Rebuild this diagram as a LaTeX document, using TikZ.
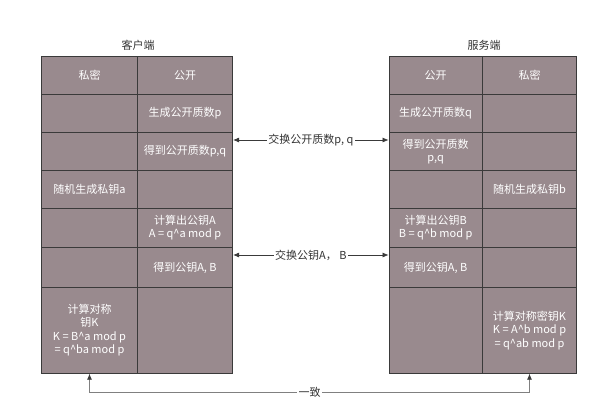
\documentclass[tikz,border=0pt]{standalone}
\usepackage{fontspec}
\setmainfont{Noto Sans CJK SC}
\usetikzlibrary{arrows.meta}
\definecolor{cellc}{HTML}{998A8E}
\definecolor{edgec}{HTML}{3A3A3A}
\definecolor{txtc}{HTML}{333333}
\begin{document}
\begin{tikzpicture}[x=1pt,y=-1pt,
  font=\fontsize{11}{13.5}\selectfont,
  cell/.style={draw=edgec, line width=0.8pt, fill=cellc, text=white, inner sep=1pt, align=center},
  la/.style={cell, minimum width=95.6pt},
  lb/.style={cell, minimum width=95.4pt},
  ra/.style={cell, minimum width=93.3pt},
  rb/.style={cell, minimum width=94.4pt},
  h1/.style={minimum height=37.6pt},
  h2/.style={minimum height=38.4pt},
  h3/.style={minimum height=37.6pt},
  h4/.style={minimum height=37.7pt},
  h5/.style={minimum height=39.7pt},
  h6/.style={minimum height=39.6pt},
  h7/.style={minimum height=86pt},
  conn/.style={draw=edgec, line width=0.7pt, {Latex[length=6pt,width=5pt,color=edgec]}-{Latex[length=6pt,width=5pt,color=edgec]}},
  lbl/.style={fill=white, text=txtc, inner sep=1.5pt},
  title/.style={text=txtc}
]
\useasboundingbox (0,0) rectangle (605,418);
\fill[white] (0,0) rectangle (605,418);

\node[title] (tl) at (138,45) {客户端};
\node[title] (tr) at (484,45) {服务端};

% left table
\node[la,h1] (l1a) at (89.5,75.5) {私密};
\node[lb,h1] (l1b) at (185,75.5) {公开};
\node[la,h2] (l2a) at (89.5,113.5) {};
\node[lb,h2] (l2b) at (185,113.5) {生成公开质数p};
\node[la,h3] (l3a) at (89.5,151.5) {};
\node[lb,h3] (l3b) at (185,151.5) {得到公开质数p,q};
\node[la,h4] (l4a) at (89.5,189.15) {随机生成私钥a};
\node[lb,h4] (l4b) at (185,189.15) {};
\node[la,h5] (l5a) at (89.5,227.85) {};
\node[lb,h5] (l5b) at (185,227.85) {计算出公钥A\\A = q\textasciicircum a mod p};
\node[la,h6] (l6a) at (89.5,267.5) {};
\node[lb,h6] (l6b) at (185,267.5) {得到公钥A, B};
\node[la,h7] (l7a) at (89.5,330.3) {计算对称\\钥K\\K = B\textasciicircum a mod p\\= q\textasciicircum ba mod p};
\node[lb,h7] (l7b) at (185,330.3) {};

% right table
\node[ra,h1] (r1a) at (435.65,75.5) {公开};
\node[rb,h1] (r1b) at (529.5,75.5) {私密};
\node[ra,h2] (r2a) at (435.65,113.5) {生成公开质数q};
\node[rb,h2] (r2b) at (529.5,113.5) {};
\node[ra,h3] (r3a) at (435.65,151.5) {得到公开质数\\p,q};
\node[rb,h3] (r3b) at (529.5,151.5) {};
\node[ra,h4] (r4a) at (435.65,189.15) {};
\node[rb,h4] (r4b) at (529.5,189.15) {随机生成私钥b};
\node[ra,h5] (r5a) at (435.65,227.85) {计算出公钥B\\B = q\textasciicircum b mod p};
\node[rb,h5] (r5b) at (529.5,227.85) {};
\node[ra,h6] (r6a) at (435.65,267.5) {得到公钥A, B};
\node[rb,h6] (r6b) at (529.5,267.5) {};
\node[ra,h7] (r7a) at (435.65,330.3) {};
\node[rb,h7] (r7b) at (529.5,330.3) {计算对称密钥K\\K = A\textasciicircum b mod p\\= q\textasciicircum ab mod p};

% connectors
\draw[conn] ([yshift=11.5pt]l3b.east) -- node[lbl] (x1) {交换公开质数p, q} ([yshift=11.5pt]r3a.west);
\draw[conn] ([yshift=12.5pt]l6b.east) -- node[lbl] (x2) {交换公钥A， B} ([yshift=12.5pt]r6a.west);
\draw[conn, draw=gray] (l7a.south) -- ++(0,18.5) -| node[lbl, pos=0.25] (x3) {一致} (r7b.south);
\end{tikzpicture}
\end{document}
